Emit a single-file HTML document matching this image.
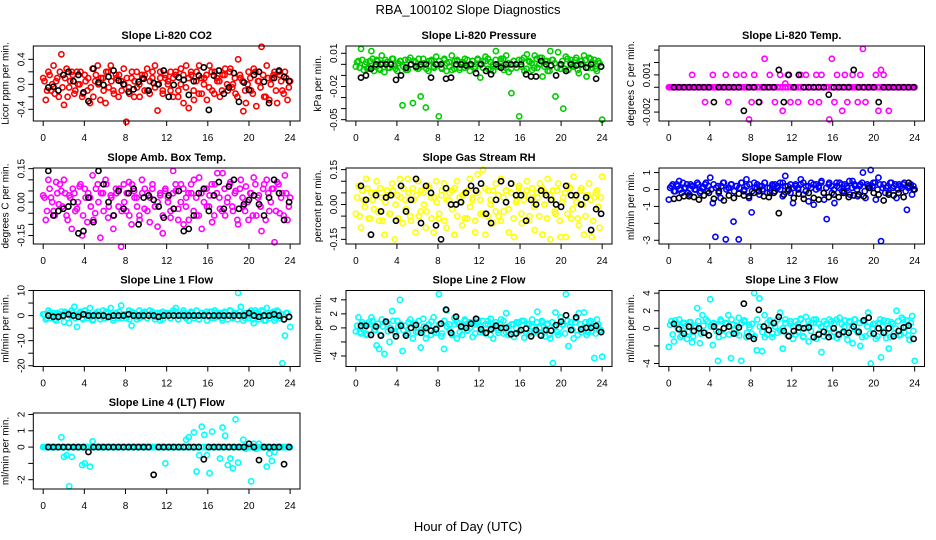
<!DOCTYPE html>
<html><head><meta charset="utf-8"><style>
html,body{margin:0;padding:0;background:#fff}
svg{display:block;font-family:"Liberation Sans",sans-serif}
</style></head><body>
<svg id="chart" width="936" height="540" viewBox="0 0 936 540">
<rect width="936" height="540" fill="#fff"/>
<text x="468" y="14" text-anchor="middle" font-size="13">RBA_100102  Slope Diagnostics</text>
<text x="468" y="531" text-anchor="middle" font-size="13">Hour of Day (UTC)</text>
</svg>
<script>
// ---- data ----
const co2Vals=[0.1,-0.25,0.2,-0.1,0.3,0.05,-0.2,0.48,-0.33,0.25,-0.05,0.2,-0.15,0.2,0.0,-0.2,0.15,-0.1,-0.3,0.25,0.05,0.3,-0.25,0.1,-0.3,0.2,0.3,-0.1,0.15,-0.2,0.05,0.25,-0.6,-0.05,0.1,-0.2,0.2,0.0,0.15,-0.1,0.25,-0.15,0.1,0.3,-0.42,0.2,-0.1,0.1,0.0,0.2,-0.2,0.15,-0.1,0.25,-0.3,0.3,-0.38,0.15,-0.25,0.2,0.3,-0.15,0.1,-0.25,0.3,-0.1,0.2,0.05,-0.2,0.15,0.25,-0.1,0.25,0.0,-0.15,0.4,0.1,-0.43,-0.3,0.2,-0.1,0.25,-0.35,0.05,0.6,-0.2,0.3,-0.25,0.1,0.2,-0.3,0.15,-0.1,0.2,-0.25,0.05];
const co2Core=[0.05,-0.1,0.15,0.0,-0.15,0.1,0.2,-0.05,0.1,-0.2,0.05,0.15,-0.1,0.0,0.2,-0.15,0.05,0.1,-0.05,-0.2,0.15,0.0,0.1,-0.1,0.2,-0.05,0.05,-0.15,0.1,0.15,-0.1,0.0,0.1,-0.15,0.2,0.05,-0.05,-0.2,0.1,0.15,-0.1,0.05,0.2,-0.05,0.0,0.1,-0.15,0.15,0.05,-0.1,0.1,0.2,-0.2,0.0,0.15,-0.05,0.1,0.2,-0.1,0.05,-0.15,0.1,0.0,0.15,-0.05,0.2,-0.15,0.1,0.05,-0.1,0.15,0.0,0.2,-0.05,0.1,-0.2,0.15,0.05,-0.1,0.0,0.1,-0.15,0.2,0.05,-0.05,0.15,-0.2,0.1,0.0,0.15,-0.1,0.2,0.05,-0.15,0.1,-0.05];
const co2Black=[-0.05,-0.04,-0.1,0.15,0.2,0.05,0.15,-0.13,-0.27,0.25,0.03,-0.01,0.12,0.22,0.06,0.0,-0.12,-0.08,0.04,0.09,-0.1,0.02,0.0,0.22,-0.2,-0.01,0.11,0.07,-0.17,0.05,0.14,0.27,-0.41,0.14,0.22,-0.15,-0.05,0.18,-0.28,0.03,-0.09,0.15,0.2,0.04,-0.3,0.1,0.22,0.12,0.05];
const presVals=[-0.002,0.003,0.014,-0.005,0.002,-0.003,0.012,-0.006,0.004,-0.004,0.008,-0.007,0.002,-0.003,0.005,-0.001,-0.006,0.003,-0.037,0.004,-0.005,0.006,-0.035,0.002,-0.004,-0.029,0.005,-0.039,-0.006,0.003,-0.002,0.007,-0.047,-0.003,0.004,-0.006,0.002,0.008,-0.004,0.003,-0.005,0.002,-0.003,0.004,-0.006,0.003,-0.002,0.005,-0.012,0.003,0.007,-0.004,0.002,-0.006,0.012,-0.002,0.005,-0.005,0.008,-0.007,-0.026,0.003,-0.003,-0.047,0.004,-0.006,0.009,0.002,-0.005,0.008,-0.003,0.006,-0.011,0.003,-0.006,0.012,0.004,-0.029,0.011,-0.004,-0.04,0.007,-0.005,0.004,-0.002,0.006,-0.008,0.003,0.008,-0.011,0.006,-0.003,0.004,-0.006,0.001,-0.05];
const presCore=[0.002,-0.003,0.004,0.0,-0.004,0.003,0.005,-0.002,0.003,-0.005,0.001,0.004,-0.003,0.0,0.005,-0.004,0.001,0.003,-0.002,-0.005,0.004,0.0,0.003,-0.003,0.005,-0.002,0.001,-0.004,0.003,0.004,-0.003,0.0,0.003,-0.004,0.005,0.001,-0.002,-0.005,0.003,0.004,-0.003,0.001,0.005,-0.002,0.0,0.003,-0.004,0.004,0.001,-0.003,0.003,0.005,-0.005,0.0,0.004,-0.002,0.003,0.005,-0.003,0.001,-0.004,0.003,0.0,0.004,-0.002,0.006,-0.004,0.003,0.001,-0.003,0.005,0.0,0.006,-0.002,0.003,-0.006,0.004,0.001,-0.003,0.0,0.003,-0.004,0.005,0.001,-0.002,0.004,-0.005,0.003,0.0,0.004,-0.003,0.005,0.001,-0.004,0.003,-0.002];
const presBlack=[-0.012,-0.01,-0.004,0,0,0,0,-0.014,-0.01,-0.003,0,-0.002,0,0,-0.012,0,0,-0.013,-0.012,0,0,-0.001,0,-0.008,0,-0.006,-0.009,0,-0.003,0,0,0,0,-0.009,-0.011,-0.011,0.003,0,-0.001,-0.01,0,-0.006,0,-0.001,0,-0.003,0,-0.013,-0.002];
const tempVals=[0,0,0,0,0,0,0,0,0,0.001,0,0,0,0,-0.0012,0,0,0.001,0,0,0,0,0.001,-0.0012,0,0,0.001,0,0,0.001,0,-0.0026,-0.0012,0.001,0,-0.0012,0,0.0023,0,0.001,0,-0.0012,0,0.001,-0.0019,0.0003,0.001,-0.0012,0,0,-0.0012,0.001,0,0.001,0,-0.0012,0,0.001,-0.0012,0.001,0,0,-0.0026,0.0023,-0.0012,0.001,0,-0.0019,0.001,-0.0012,0,0.001,0,-0.0012,0.001,0.0031,-0.0012,0,0,0,0.001,-0.0019,0.0014,0.001,0,-0.0019,0,0,0,0,0,0,0,0,0,0];
const tempCore=[0,0,0,0,0,0,0,0,0,0,0,0,0,0,0,0,0,0,0,0,0,0,0,0,0,0,0,0,0,0,0,0,0,0,0,0,0,0,0,0,0,0,0,0,0,0,0,0,0,0,0,0,0,0,0,0,0,0,0,0,0,0,0,0,0,0,0,0,0,0,0,0,0,0,0,0,0,0,0,0,0,0,0,0,0,0,0,0,0,0,0,0,0,0,0,0];
const tempBlack=[0,0,0,0,0,0,0,0,-0.0012,0,0,0,0,0,-0.0019,0,0,-0.0012,0,0,0,0.0014,-0.0012,0.001,0,0.001,0,0,0,0,0,-0.0006,0,0,0,0,0.0014,0,0,0,0,-0.0012,0,0,0,0,0,0,0];
const ambVals=[0.03,-0.08,0.1,0.02,-0.04,0.09,-0.01,0.05,0.1,-0.06,0.03,-0.12,0.04,-0.03,0.07,-0.15,0.06,-0.09,0.02,0.12,-0.05,0.08,-0.16,0.04,0.1,-0.07,0.03,-0.12,0.06,-0.02,-0.2,0.08,-0.04,0.09,-0.1,0.05,0.02,-0.06,0.1,-0.03,0.04,-0.09,0.06,-0.02,-0.11,0.03,-0.14,0.05,0.0,-0.07,0.14,0.05,-0.03,0.08,-0.1,0.02,-0.08,0.04,0.1,-0.06,0.11,-0.12,0.06,-0.02,0.03,-0.09,0.08,0.13,-0.03,0.13,-0.06,0.02,0.09,-0.04,0.05,-0.1,0.1,-0.02,0.07,-0.08,0.04,0.11,-0.06,0.03,-0.13,0.08,0.1,-0.04,0.06,-0.18,0.09,-0.05,0.04,0.12,-0.08,0.02];
const ambCore=[0.02,-0.04,0.06,0.0,-0.06,0.04,0.08,-0.02,0.04,-0.08,0.02,0.06,-0.04,0.0,0.08,-0.06,0.02,0.04,-0.02,-0.08,0.06,0.0,0.04,-0.04,0.08,-0.02,0.02,-0.06,0.04,0.06,-0.04,0.0,0.04,-0.06,0.08,0.02,-0.02,-0.08,0.04,0.06,-0.04,0.02,0.08,-0.02,0.0,0.04,-0.06,0.06,0.02,-0.04,0.04,0.08,-0.08,0.0,0.06,-0.02,0.04,0.08,-0.04,0.02,-0.06,0.04,0.0,0.06,-0.02,0.08,-0.06,0.04,0.02,-0.04,0.06,0.0,0.08,-0.02,0.04,-0.08,0.06,0.02,-0.04,0.0,0.04,-0.06,0.08,0.02,-0.02,0.06,-0.08,0.04,0.0,0.06,-0.04,0.08,0.02,-0.06,0.04,-0.02];
const ambBlack=[0.14,-0.06,-0.04,-0.03,-0.02,0.0,-0.14,-0.13,0.02,-0.09,0.14,0.08,0.0,-0.06,0.05,-0.03,0.04,0.06,-0.1,0.02,0.03,0.01,-0.02,-0.07,0.03,-0.03,0.05,-0.13,-0.12,-0.06,0.04,0.06,-0.04,0.03,0.09,-0.03,0.07,0.1,-0.03,-0.01,0.01,0.03,-0.01,-0.06,0.02,0.1,0.04,-0.08,0.0];
const rhVals=[-0.04,0.08,-0.1,0.02,0.11,-0.06,0.05,-0.02,0.1,-0.07,0.03,-0.13,0.06,-0.04,0.09,-0.15,0.04,0.11,-0.08,0.02,0.11,-0.05,0.07,-0.12,0.1,-0.03,0.05,-0.1,0.08,0.03,-0.12,0.1,-0.06,0.04,0.09,-0.1,0.02,0.06,-0.13,0.1,0.03,-0.09,0.05,-0.06,0.11,0.02,-0.12,0.13,-0.04,0.15,-0.13,0.06,0.02,-0.08,0.09,-0.05,0.11,-0.03,0.06,-0.12,0.09,-0.14,0.02,0.08,-0.08,0.04,0.1,-0.05,0.07,-0.11,0.03,0.09,-0.13,0.05,0.11,-0.15,0.06,-0.04,0.09,-0.14,0.03,-0.14,0.08,-0.06,0.12,0.01,-0.09,0.07,-0.13,0.04,0.09,-0.14,0.03,0.06,-0.1,0.12];
const rhCore=[0.03,-0.05,0.06,-0.01,0.07,-0.06,0.02,0.05,-0.03,0.07,-0.07,0.01,0.04,-0.04,0.06,0.0,-0.06,0.03,0.07,-0.02,0.05,-0.07,0.02,0.04,-0.05,0.06,0.0,-0.03,0.07,-0.06,0.03,0.01,-0.04,0.06,-0.07,0.02,0.05,-0.02,0.07,-0.05,0.01,0.04,-0.06,0.06,-0.01,0.03,-0.07,0.05,0.02,-0.04,0.07,-0.05,0.0,0.06,-0.03,0.04,-0.07,0.03,0.06,-0.02,0.05,-0.06,0.01,0.07,-0.04,0.02,0.06,-0.07,0.03,-0.01,0.05,-0.05,0.07,0.0,-0.06,0.04,0.02,-0.03,0.06,-0.07,0.01,0.05,-0.04,0.07,-0.02,0.03,-0.06,0.06,0.0,-0.05,0.04,0.02,-0.07,0.05,-0.01,0.03];
const rhBlack=[0.08,0.02,-0.13,0.04,-0.03,0.03,0.04,-0.07,0.08,-0.03,0.02,0.11,-0.08,0.08,0.05,-0.09,-0.15,0.07,0.0,0.0,0.01,0.05,0.08,0.06,0.09,-0.04,-0.08,0.02,0.1,0.01,0.09,0.04,0.04,-0.07,0.02,0.0,0.06,0.04,0.02,0.0,-0.01,0.08,0.04,0.04,0.0,0.03,-0.11,-0.02,-0.04];
const flowVals=[-0.6,0.2,-0.1,0.3,0.5,-0.2,0.1,0.3,-0.3,0.2,0.0,0.4,-0.2,0.1,0.3,-0.1,0.7,-0.8,-2.8,0.2,-0.5,0.4,-2.95,0.1,0.3,-1.9,0.2,-2.95,0.4,-0.1,0.6,-0.5,-1.35,0.4,0.1,-0.3,0.2,0.4,-0.2,0.1,0.3,-0.1,0.2,0.4,-0.4,0.8,0.2,-0.2,-0.8,0.3,0.1,0.6,-0.3,0.2,-0.7,0.4,-0.9,0.3,0.1,0.5,-0.6,-1.75,0.4,-0.2,-0.8,0.2,0.4,-0.1,0.3,0.1,-0.3,0.5,0.2,-0.4,0.3,1.0,-0.5,0.2,1.15,0.4,-0.6,0.7,-3.05,0.3,0.1,-0.2,0.4,0.2,-0.5,0.3,0.1,0.4,-1.2,0.2,-0.3,0.0];
const flowCore=[0.1,0.3,-0.1,0.2,0.0,0.4,0.1,-0.2,0.3,0.2,0.0,0.3,-0.1,0.1,0.4,0.2,0.0,0.3,0.1,-0.2,0.2,0.4,0.0,0.1,0.3,-0.1,0.2,0.1,0.4,0.0,0.2,0.3,-0.1,0.1,0.3,0.2,0.0,0.4,0.1,-0.2,0.2,0.3,0.1,0.0,0.4,0.2,-0.1,0.3,0.1,0.2,0.0,0.3,0.4,-0.1,0.2,0.1,0.3,0.0,0.2,0.4,-0.2,0.1,0.3,0.2,0.0,0.4,0.1,0.3,-0.1,0.2,0.5,0.1,0.3,0.0,0.2,0.4,-0.1,0.3,0.1,0.2,0.4,0.0,0.3,0.1,-0.2,0.2,0.4,0.1,0.3,0.0,0.2,0.3,-0.1,0.1,0.3,0.2];
const flowBlack=[-0.55,-0.5,-0.4,-0.4,-0.45,-0.6,-0.35,-0.2,-0.55,-0.1,-0.65,-0.35,-0.5,-0.25,-0.35,-0.4,-0.2,-0.1,-0.4,-0.45,-0.2,-1.4,-0.3,0.0,-0.5,-0.25,-0.55,-0.2,-0.5,-0.6,-0.2,-0.45,-0.3,-0.45,-0.2,-0.45,-0.35,-0.3,-0.4,0.1,-0.2,-0.3,-0.65,-0.3,-0.35,-0.2,-0.45,0.4,0.0];
const l1Vals=[0.5,-1.5,2,-1,1,-2,0.5,1.5,-2.5,1,-3,2,3.5,-4.5,1,-1,2,-1,3,-2,0.5,1.5,-1.5,2,-1,1,3,-2,1,-1,4,0.5,-1,2,-4,1,-1.5,2,-0.5,1,-1,2,0.5,-1.5,1,-2,1.5,0,1,-1,2,3,-1.5,0.5,2,-1,-2,1,-1,2,-1.5,1,0.5,-2,1.5,-1,2,-0.5,1,-2,1,-1.5,2,-1,0.5,9,3.5,-2,1,-1,2,-3,1,-1.5,2,-2,3,-1,1,-2,2,-1,-19,-8,1,-4.5];
const l1Core=[0.5,-1,1,0,-1.5,1,0.5,-0.5,1.5,-1,0,1,-1,0.5,1.5,-1.5,0,1,-0.5,-1.5,1,0,0.5,-1,1.5,-0.5,0,-1,1,1.5,-1,0,0.5,-1.5,1.5,0,-0.5,-1,1,1.5,-1,0.5,1.5,-0.5,0,1,-1.5,1,0.5,-1,1,1.5,-1.5,0,1,-0.5,0.5,1.5,-1,0,-1.5,1,0,1.5,-0.5,1.5,-1,1,0.5,-1,1.5,0,2,-0.5,1,-1.5,1.5,0.5,-1,0,1,-1.5,2,0.5,-0.5,1.5,-2,1,0,1.5,-1,1.5,0.5,-1.5,1,-0.5];
const l1Black=[0,-0.5,-0.5,0,0.5,0,-0.5,0.5,0,0,0,0,-0.5,0,0,0,0.5,0,0,0,0,0,-0.5,0,0,0,0,0,0,0,0,0,0,0,0,0,0,0,0,0,1,0,-0.5,0,0,0.5,0,-1.5,-0.5];
const l2Vals=[-0.5,1.5,-0.8,0.5,-1,0.8,1.5,-0.3,-2.5,-3,1.2,-3.7,0.6,-2,2.4,-0.5,1,4,-3.3,0.3,-0.8,1.2,-1.5,0.6,-0.6,-2.8,1.3,-1.5,0.4,-1,1.5,-0.7,4.8,-1.2,-3,2.5,0.5,-0.8,1.4,-1.5,0.6,-1,1.2,-0.4,0.8,-1.3,0.5,1.2,-0.6,1,-0.8,0.5,1.3,-1.5,0.4,-0.7,1.2,-0.8,2.1,-1,0.5,-1.3,0.8,-0.5,1,-1.4,0.6,-0.8,1.2,-0.5,2.3,-1,0.8,-1.2,0.6,-1.5,-5,2.2,-1,1.5,0.5,4.8,-2.6,0.8,-1.5,1.3,2.1,-0.6,2.2,-1,0.8,-0.5,-4.3,1.2,-0.4,-4.1];
const l2Core=[0.3,-0.6,0.8,0,-0.9,0.5,1,-0.3,0.6,-1,0.2,0.8,-0.5,0,1,-0.8,0.2,0.5,-0.3,-1,0.8,0,0.5,-0.6,1,-0.3,0.2,-0.8,0.5,0.9,-0.6,0,0.5,-0.8,1,0.2,-0.3,-1,0.5,0.8,-0.6,0.2,1,-0.3,0,0.5,-0.8,0.8,0.2,-0.6,0.5,1,-1,0,0.8,-0.3,0.5,1,-0.6,0.2,-0.8,0.5,0,0.8,-0.3,1,-0.8,0.5,0.2,-0.6,0.8,0,1,-0.3,0.5,-1,0.8,0.2,-0.6,0,0.5,-0.8,1,0.2,-0.3,0.8,-1,0.5,0,0.8,-0.6,1,0.2,-0.8,0.5,-0.3];
const l2Black=[0.3,0.3,-1,0.2,-1.1,0.9,-0.3,-1.2,0.3,-1.1,0,0.4,-0.7,0,-0.4,-0.2,0.6,2.6,-0.7,1.6,0.2,0,0.6,1.3,-0.2,-0.7,-0.2,0.3,0,0,-0.9,-0.8,-0.3,-0.1,-1.2,-0.3,-1.1,-0.3,-0.4,0.4,0.9,1.8,-0.3,1.5,-0.2,0,0,0.3,-0.6];
const l3Vals=[-2.1,0.8,-1.5,0.5,1,-0.8,0.6,-1.2,0.7,-1.6,0.3,2.3,-1.7,1.5,-0.5,0.8,3.3,-1.9,0.5,-3.7,1,-0.8,0.6,1.5,-3.4,0.4,-0.6,1.2,-3.7,0.8,-1,0.4,-0.6,4,-2.5,3.4,-2.6,1.5,-0.7,0.9,-1,0.6,-0.5,1.8,-2.3,1,-0.8,0.5,-1.2,0.8,-0.4,1.1,-0.9,1.3,-1.5,0.6,1,-1.2,0.5,-2.7,0.8,-0.6,1,-0.9,0.6,-1.1,1.2,-0.5,0.9,-1.3,0.7,-1.7,1,-0.5,-2,0.8,-0.9,1.8,-4,0.5,-1.2,0.6,-3.3,0.9,-1.1,-2.3,0.7,-0.6,2,-0.8,1.2,-0.5,0.9,-1.3,1.4,-3.7];
const l3Core=[0.4,-0.7,0.9,0,-1,0.6,0.2,-0.4,0.7,-0.9,0.1,0.8,-0.6,0.3,1,-0.8,0.2,0.6,-0.3,-1,0.8,0,0.5,-0.7,1,-0.2,0.3,-0.8,0.6,0.9,-0.5,0.1,0.5,-0.9,1,0.2,-0.4,-1,0.6,0.8,-0.6,0.2,1,-0.3,0,0.6,-0.8,0.8,0.2,-0.7,0.5,1,-1,0.1,0.8,-0.3,0.6,1,-0.6,0.2,-0.9,0.5,0,0.8,-0.4,1,-0.8,0.5,0.2,-0.7,0.8,0,1,-0.3,0.6,-1,0.8,0.2,-0.6,0,0.5,-0.9,1,0.2,-0.4,0.8,-1,0.5,0,0.8,-0.7,1,0.2,-0.8,0.6,-0.3];
const l3Black=[0.5,-0.1,-0.6,0.2,-0.3,0,-0.5,-0.8,0.2,-0.4,0,0.2,-0.6,0.1,2.8,-0.9,-1.2,2.1,0.2,-0.2,0.6,1.3,-0.3,-0.9,-0.3,0.1,0,0.1,-1,-0.7,-0.4,-1,0,-0.7,-0.4,-0.5,0.2,-0.4,0.9,1.2,-0.6,0,-0.5,0,-0.9,-0.3,0.1,0.3,-1.2];
const l4Vals=[0,0,0,0,0,0,0,0.6,-0.6,-0.5,-2.4,-0.6,0,0,0,-1.1,-1,0,-1.2,0.35,0,0,0,0,0,0,0,0,0,0,0,0,0,0,0,0,0,0,0,0,0,0,0,0,0,0,0,-1,0,0,0,0,0,0,0,0.45,0.6,0,0.9,-1.5,-0.5,1.25,0.75,-0.5,-1.6,0.95,0,0,-0.7,1.2,0.7,-1.1,-0.7,-1.3,1.7,-0.95,0,0.45,-0.1,0,-2.1,0.2,-0.1,0.2,0,0,-1.2,-0.4,-0.85,-0.3,0,0,0,0,0,0];
const l4Core=[0,0,0,0,0,0,0,0,0,0,0,0,0,0,0,0,0,0,0,0,0,0,0,0,0,0,0,0,0,0,0,0,0,0,0,0,0,0,0,0,0,0,0,0,0,0,0,0,0,0,0,0,0,0,0,0,0,0,0,0,0,0,0,0,0,0,0,0,0,0,0,0,0,0,0,0,0,0,0,0,0,0,0,0,0,0,0,0,0,0,0,0,0,0,0,0];
const l4Black=[0,0,0,0,0,0,0,0,-0.3,0,0,0,0,0,0,0,0,0,0,0,0,-1.7,0,0,0,0,0,0,0,0,0,-0.75,0,0,0,0,0,0,0,0,0.2,0,-0.8,0,0,0,0,-1.05,0];
const xTicks=[0,4,8,12,16,20,24];
const co2Ticks=[-0.4,-0.2,0,0.2,0.4], co2Labels=["-0.4","","0.0","","0.4"];
const presTicks=[0.01,0,-0.01,-0.02,-0.03,-0.04,-0.05], presLabels=["0.01","","","-0.02","","","-0.05"];
const tempTicks=[-0.002,-0.001,0,0.001,0.002,0.003], tempLabels=["-0.002","","","0.001","",""];
const ambTicks=[-0.15,-0.1,-0.05,0,0.05,0.1,0.15], ambLabels=["-0.15","","","0.00","","","0.15"];
const rhTicks=[-0.15,-0.1,-0.05,0,0.05,0.1,0.15], rhLabels=["-0.15","","","0.00","","","0.15"];
const flowTicks=[-3,-2,-1,0,1], flowLabels=["-3","","-1","0","1"];
const l1Ticks=[-20,-15,-10,-5,0,5,10], l1Labels=["-20","","-10","","0","","10"];
const l2Ticks=[-4,-2,0,2,4], l2Labels=["-4","","0","2","4"];
const l3Ticks=[-4,-2,0,2,4], l3Labels=["-4","","0","2","4"];
const l4Ticks=[-2,-1,0,1,2], l4Labels=["-2","","0","1","2"];

const NS="http://www.w3.org/2000/svg";
const svg=document.getElementById('chart');
function mk(tag,attrs,parent){const e=document.createElementNS(NS,tag);for(const k in attrs)e.setAttribute(k,attrs[k]);(parent||svg).appendChild(e);return e;}
const cols=[[33.3,300],[346,612],[659,924.5]];
const rows=[[46,121],[168,244],[290.5,366.5],[413,489]];
const panels=[
 {id:'co2',title:'Slope Li-820 CO2',ylab:'Licor ppm per min.',c:'#ff0000',v:co2Vals,cv:co2Core,b:co2Black,lo:-0.587,hi:0.613,t:co2Ticks,tl:co2Labels,r:0,k:0},
 {id:'pressure',title:'Slope Li-820 Pressure',ylab:'kPa per min.',c:'#00cc00',v:presVals,cv:presCore,b:presBlack,lo:-0.0512,hi:0.0166,t:presTicks,tl:presLabels,r:0,k:1},
 {id:'temp',title:'Slope Li-820 Temp.',ylab:'degrees C per min.',c:'#ff00ff',v:tempVals,cv:tempCore,b:tempBlack,lo:-0.00272,hi:0.00333,t:tempTicks,tl:tempLabels,r:0,k:2},
 {id:'amb-temp',title:'Slope Amb. Box Temp.',ylab:'degrees C per min.',c:'#ff00ff',v:ambVals,cv:ambCore,b:ambBlack,lo:-0.188,hi:0.153,t:ambTicks,tl:ambLabels,r:1,k:0},
 {id:'gas-rh',title:'Slope Gas Stream RH',ylab:'percent per min.',c:'#ffff00',v:rhVals,cv:rhCore,b:rhBlack,lo:-0.170,hi:0.157,t:rhTicks,tl:rhLabels,r:1,k:1},
 {id:'sample-flow',title:'Slope Sample Flow',ylab:'ml/min per min.',c:'#0000ff',v:flowVals,cv:flowCore,b:flowBlack,lo:-3.22,hi:1.27,t:flowTicks,tl:flowLabels,r:1,k:2},
 {id:'line1-flow',title:'Slope Line 1 Flow',ylab:'ml/min per min.',c:'#00ffff',v:l1Vals,cv:l1Core,b:l1Black,lo:-20.3,hi:10.0,t:l1Ticks,tl:l1Labels,r:2,k:0},
 {id:'line2-flow',title:'Slope Line 2 Flow',ylab:'ml/min per min.',c:'#00ffff',v:l2Vals,cv:l2Core,b:l2Black,lo:-5.5,hi:5.33,t:l2Ticks,tl:l2Labels,r:2,k:1},
 {id:'line3-flow',title:'Slope Line 3 Flow',ylab:'ml/min per min.',c:'#00ffff',v:l3Vals,cv:l3Core,b:l3Black,lo:-4.34,hi:4.3,t:l3Ticks,tl:l3Labels,r:2,k:2},
 {id:'line4-flow',title:'Slope Line 4 (LT) Flow',ylab:'ml/min per min.',c:'#00ffff',v:l4Vals,cv:l4Core,b:l4Black,lo:-2.57,hi:2.09,t:l4Ticks,tl:l4Labels,r:3,k:0}
];
panels.forEach(p=>{
  const [L,R]=cols[p.k],[T,B]=rows[p.r];
  const g=mk('g',{});
  
  
  const xs=h=>L+(h+0.96)/25.92*(R-L);
  const ys=v=>B-(v-p.lo)/(p.hi-p.lo)*(B-T);
  const tt=mk('text',{x:(L+R)/2,y:T-7,'text-anchor':'middle','font-size':'11','font-weight':'bold'},g);
  tt.textContent=p.title;
  
  
  const yl=mk('text',{transform:`translate(${L-25},${(T+B)/2}) rotate(-90)`,'text-anchor':'middle','font-size':'10'},g);
  yl.textContent=p.ylab;
  
  
  const nc=p.cv.length;
  p.cv.forEach((v,i)=>{
    const c=mk('circle',{cx:xs((i+0.5)*24/nc),cy:ys(v),r:2.6,fill:'none',stroke:p.c,'stroke-width':1.6},g);
    
    
  });
  const n=p.v.length;
  p.v.forEach((v,i)=>{
    const c=mk('circle',{cx:xs(i*24/(n-1)),cy:ys(v),r:2.6,fill:'none',stroke:p.c,'stroke-width':1.6},g);
    
    
  });
  const m=p.b.length;
  p.b.forEach((v,i)=>{
    const c=mk('circle',{cx:xs(0.5+i*23.4/(m-1)),cy:ys(v),r:2.6,fill:'none',stroke:'#000','stroke-width':1.6},g);
    
    
  });
  const box=mk('rect',{x:L,y:T,width:R-L,height:B-T,fill:'none',stroke:'#000','stroke-width':1},g);
  
  
  xTicks.forEach(h=>{
    mk('line',{x1:xs(h),x2:xs(h),y1:B,y2:B+5,stroke:'#000'},g);
    const t=mk('text',{x:xs(h),y:B+20,'text-anchor':'middle','font-size':'10'},g);
    t.textContent=h;
    
    
  });
  p.t.forEach((v,i)=>{
    mk('line',{x1:L-5,x2:L,y1:ys(v),y2:ys(v),stroke:'#000'},g);
    if(p.tl[i]){
      const t=mk('text',{transform:`translate(${L-9},${ys(v)}) rotate(-90)`,'text-anchor':'middle','font-size':'10'},g);
      t.textContent=p.tl[i];
      
      
    }
  });
});
</script>
</body></html>
